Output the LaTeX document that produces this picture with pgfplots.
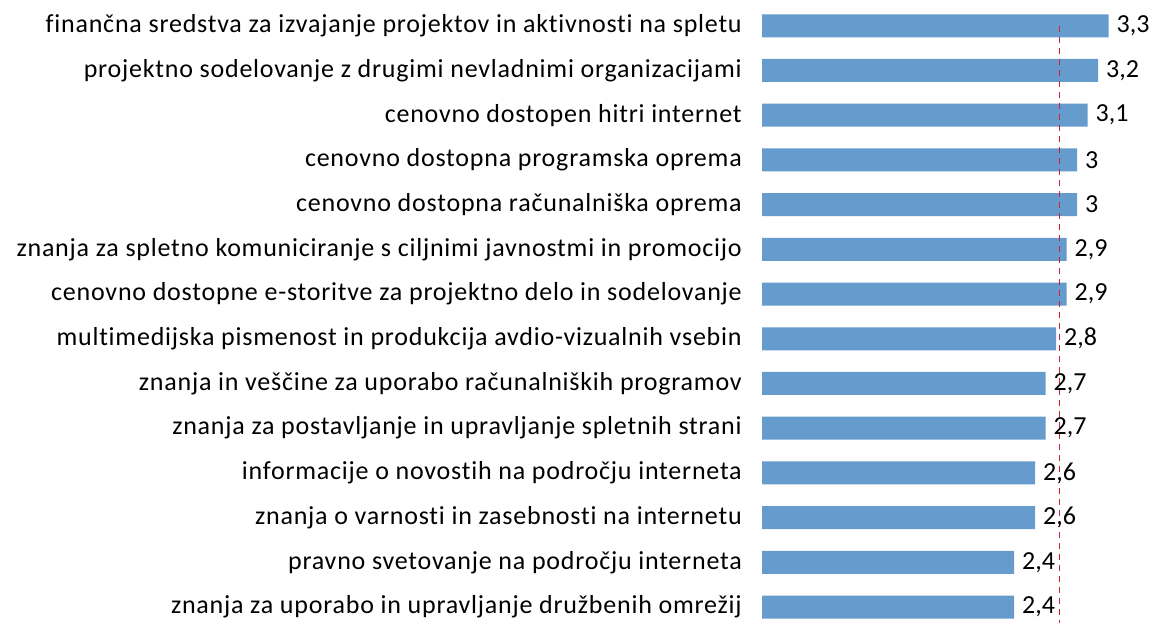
\documentclass[border=0pt]{standalone}
\usepackage{pgfplots}
\pgfplotsset{compat=1.18}
\usepackage{fontspec}
\setmainfont{Carlito}
\newfontfamily\spaced[LetterSpace=3,Ligatures=NoCommon]{Carlito}
\definecolor{barblue}{RGB}{102,155,206}
\definecolor{refred}{RGB}{210,30,45}
\begin{document}
\begin{tikzpicture}
\useasboundingbox (0,0) rectangle (1153pt,622pt);
\begin{axis}[
  at={(762pt,-7.4pt)}, anchor=south west,
  scale only axis,
  width=388.5pt, height=626pt,
  xmin=0, xmax=3.7, ymin=-0.5, ymax=13.5,
  hide x axis,
  axis y line*=left,
  y axis line style={draw=none},
  major tick length=0pt,
  ytick={0,...,13},
  yticklabels={
    znanja za uporabo in upravljanje družbenih omrežij,
    pravno svetovanje na področju interneta,
    znanja o varnosti in zasebnosti na internetu,
    informacije o novostih na področju interneta,
    znanja za postavljanje in upravljanje spletnih strani,
    znanja in veščine za uporabo računalniških programov,
    multimedijska pismenost in produkcija avdio-vizualnih vsebin,
    cenovno dostopne e-storitve za projektno delo in sodelovanje,
    znanja za spletno komuniciranje s ciljnimi javnostmi in promocijo,
    cenovno dostopna računalniška oprema,
    cenovno dostopna programska oprema,
    cenovno dostopen hitri internet,
    projektno sodelovanje z drugimi nevladnimi organizacijami,
    finančna sredstva za izvajanje projektov in aktivnosti na spletu},
  yticklabel style={anchor=east, inner sep=0pt, xshift=-20pt, font=\spaced\fontsize{26}{30}\selectfont, text=black},
  /pgf/number format/assume math mode=true,
  /pgf/number format/use comma,
  clip=false,
]
\addplot[xbar, bar width=23pt, fill=barblue, draw=none,
  nodes near coords,
  nodes near coords style={anchor=west, font=\fontsize{26}{30}\selectfont, text=black, inner sep=0pt, xshift=8pt}]
  coordinates {
  (2.4,0) (2.4,1) (2.6,2) (2.6,3) (2.7,4) (2.7,5) (2.8,6) (2.9,7) (2.9,8) (3.0,9) (3.0,10) (3.1,11) (3.2,12) (3.3,13)
};
\addplot[refred, dash pattern=on 6pt off 5pt, line width=1pt, mark=none, forget plot] coordinates {(2.83,13) (2.83,-0.35)};
\end{axis}
\end{tikzpicture}
\end{document}
